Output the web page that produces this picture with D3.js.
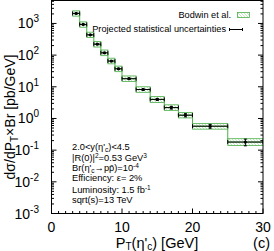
<!DOCTYPE html>
<html>
<head>
<meta charset="utf-8">
<script src="https://cdn.jsdelivr.net/npm/d3@7"></script>
<style>
  body { margin: 0; background: #fff; }
  svg { display: block; font-family: "Liberation Sans", Arial, sans-serif; }
</style>
</head>
<body>
<div></div>
<script>
const width = 274;
const height = 251;

// pT bins [GeV]
const binEdges = [3, 4, 5, 6, 7, 8, 9, 10, 12, 14, 16, 18, 20, 25, 30];
// projected cross section [pb/GeV]
const xsec = [2070, 930, 437, 222, 118, 65, 37, 18, 8.2, 4.0, 2.2, 1.27, 0.57, 0.18];
// projected statistical uncertainties
const statErr = [40, 20, 10, 6, 4, 2.5, 1.6, 0.9, 0.5, 0.3, 0.22, 0.15, 0.08, 0.043];
// Bodwin et al. band
const thHi = [2500, 1120, 530, 270, 145, 80, 45, 22, 10, 4.9, 2.7, 1.55, 0.70, 0.23];
const thLo = [1700, 760, 360, 180, 96, 53, 30, 14.6, 6.7, 3.2, 1.8, 1.04, 0.46, 0.14];

const xTicks = [0, 10, 20, 30];
const yTicks = [-3, -2, -1, 0, 1, 2, 3];

const mLeft = 51.5, mRight = 263, mTop = 0.5, mBottom = 213.5;
const green = "#4daf4a";

const svg = d3
  .select("div")
  .append("svg")
  .attr("width", width)
  .attr("height", height);

const x = d3.scaleLinear().domain([0, 30]).range([mLeft, mRight]);
const y = d3.scaleLog().domain([1e-3, 5300]).range([mBottom, mTop]);

const bins = xsec.map((v, i) => ({
  lo: binEdges[i],
  hi: binEdges[i + 1],
  v: v,
  err: statErr[i],
  thHi: thHi[i],
  thLo: thLo[i],
}));

const defs = svg.append("defs");
const pat = defs
  .append("pattern")
  .attr("id", "hatch")
  .attr("patternUnits", "userSpaceOnUse")
  .attr("width", 3)
  .attr("height", 3);
pat
  .append("path")
  .attr("d", "M-1,2 l2,2 M0,0 l3,3 M2,-1 l2,2")
  .attr("stroke", "#9ad498")
  .attr("stroke-width", 0.6);

defs
  .append("clipPath")
  .attr("id", "clip")
  .append("rect")
  .attr("x", mLeft)
  .attr("y", mTop)
  .attr("width", mRight - mLeft)
  .attr("height", mBottom - mTop);

const plot = svg.append("g").attr("clip-path", "url(#clip)");

// theory band boxes
plot
  .selectAll("rect.band")
  .data(bins)
  .enter()
  .append("rect")
  .attr("class", "band")
  .attr("x", (d) => x(d.lo))
  .attr("y", (d) => y(d.thHi))
  .attr("width", (d) => x(d.hi) - x(d.lo))
  .attr("height", (d) => y(d.thLo) - y(d.thHi))
  .attr("fill", "url(#hatch)")
  .attr("stroke", green)
  .attr("stroke-width", 0.8);

// green step line through central values
const stepPts = [];
bins.forEach((d) => {
  stepPts.push([x(d.lo), y(d.v)]);
  stepPts.push([x(d.hi), y(d.v)]);
});
plot
  .append("path")
  .attr("d", d3.line()(stepPts))
  .attr("fill", "none")
  .attr("stroke", green)
  .attr("stroke-width", 1);

// black points with errors
const pts = plot.selectAll("g.pt").data(bins).enter().append("g");
pts
  .append("line")
  .attr("x1", (d) => x(d.lo))
  .attr("x2", (d) => x(d.hi))
  .attr("y1", (d) => y(d.v))
  .attr("y2", (d) => y(d.v))
  .attr("stroke", "#000")
  .attr("stroke-width", 1);
pts
  .append("path")
  .attr("d", (d) => {
    const yy = y(d.v);
    return (
      "M" + x(d.lo) + "," + (yy - 2) + "V" + (yy + 2) +
      "M" + x(d.hi) + "," + (yy - 2) + "V" + (yy + 2)
    );
  })
  .attr("stroke", "#000")
  .attr("stroke-width", 1);
pts
  .append("path")
  .attr("d", (d) => {
    const cx = x((d.lo + d.hi) / 2);
    const y1 = y(d.v + d.err), y2 = y(d.v - d.err);
    return (
      "M" + cx + "," + y1 + "V" + y2 +
      "M" + (cx - 1.5) + "," + y1 + "H" + (cx + 1.5) +
      "M" + (cx - 1.5) + "," + y2 + "H" + (cx + 1.5)
    );
  })
  .attr("stroke", "#000")
  .attr("stroke-width", 1);
pts
  .append("circle")
  .attr("cx", (d) => x((d.lo + d.hi) / 2))
  .attr("cy", (d) => y(d.v))
  .attr("r", 1.6)
  .attr("fill", "#000");

// frame
svg
  .append("rect")
  .attr("x", mLeft)
  .attr("y", mTop)
  .attr("width", mRight - mLeft)
  .attr("height", mBottom - mTop)
  .attr("fill", "none")
  .attr("stroke", "#000")
  .attr("stroke-width", 1);

// ticks
const tickG = svg.append("g").attr("stroke", "#000").attr("stroke-width", 1);
d3.range(0, 31, 1).forEach((t) => {
  const len = t % 10 === 0 ? 5 : 2.5;
  tickG
    .append("line")
    .attr("x1", x(t))
    .attr("x2", x(t))
    .attr("y1", mBottom)
    .attr("y2", mBottom - len);
});
yTicks.forEach((e) => {
  for (let k = 1; k <= 9; k++) {
    const v = k * Math.pow(10, e);
    if (v > y.domain()[1]) break;
    const len = k === 1 ? 5 : 2.5;
    tickG
      .append("line")
      .attr("x1", mLeft)
      .attr("x2", mLeft + len)
      .attr("y1", y(v))
      .attr("y2", y(v));
    tickG
      .append("line")
      .attr("x1", mRight)
      .attr("x2", mRight - len)
      .attr("y1", y(v))
      .attr("y2", y(v));
  }
});

// tick labels
svg
  .selectAll("text.xt")
  .data(xTicks)
  .enter()
  .append("text")
  .attr("class", "xt")
  .attr("x", (d) => x(d))
  .attr("y", 232)
  .attr("text-anchor", "middle")
  .attr("font-size", 14)
  .text((d) => d);

const yl = svg
  .selectAll("text.yt")
  .data(yTicks)
  .enter()
  .append("text")
  .attr("class", "yt")
  .attr("x", 39)
  .attr("y", (d) => y(Math.pow(10, d)) + 5)
  .attr("text-anchor", "end")
  .attr("font-size", 14);
yl.append("tspan").text("10");
yl.append("tspan")
  .attr("dy", -6)
  .attr("font-size", 10)
  .text((d) => d);

// axis titles
const xt = svg
  .append("text")
  .attr("x", 157)
  .attr("y", 247.5)
  .attr("text-anchor", "middle")
  .attr("font-size", 14.5);
xt.append("tspan").text("P");
xt.append("tspan").attr("dy", 2.5).attr("font-size", 10).text("T");
xt.append("tspan").attr("dy", -2.5).text("(η'");
xt.append("tspan").attr("dy", 2.5).attr("font-size", 10).text("c");
xt.append("tspan").attr("dy", -2.5).text(") [GeV]");

svg
  .append("text")
  .attr("x", 270)
  .attr("y", 247.5)
  .attr("text-anchor", "end")
  .attr("font-size", 14.5)
  .text("(c)");

const yt = svg
  .append("text")
  .attr("transform", "translate(15,117) rotate(-90)")
  .attr("text-anchor", "middle")
  .attr("font-size", 14);
yt.append("tspan").text("dσ/dP");
yt.append("tspan").attr("dy", 3).attr("font-size", 10).text("T");
yt.append("tspan").attr("dy", -3).text("×Br [pb/GeV]");

// legend
const legFont = 9.2;
svg
  .append("text")
  .attr("x", 231)
  .attr("y", 18)
  .attr("text-anchor", "end")
  .attr("font-size", legFont)
  .text("Bodwin et al.");
svg
  .append("rect")
  .attr("x", 237.5)
  .attr("y", 12.5)
  .attr("width", 12)
  .attr("height", 5)
  .attr("fill", "url(#hatch)")
  .attr("stroke", green)
  .attr("stroke-width", 0.8);
svg
  .append("text")
  .attr("x", 226)
  .attr("y", 32)
  .attr("text-anchor", "end")
  .attr("font-size", legFont)
  .text("Projected statistical uncertainties");
svg
  .append("path")
  .attr("d", "M229.5,28V31M229.5,29.5H242.5M242.5,28V31")
  .attr("stroke", "#000")
  .attr("stroke-width", 1);

// annotation
const notes = svg.append("g").attr("font-size", 9.3);
function noteLine(yy, parts) {
  const t = notes.append("text").attr("x", 72).attr("y", yy);
  parts.forEach((p) => {
    const s = t.append("tspan").text(p[0]);
    if (p[1] === "sub") s.attr("dy", 2).attr("font-size", 6.5);
    if (p[1] === "sup") s.attr("dy", -3.5).attr("font-size", 6.5);
    if (p[1] === "subEnd") s.attr("dy", -2);
    if (p[1] === "supEnd") s.attr("dy", 3.5);
  });
}
noteLine(150, [["2.0<y(η'"], ["c", "sub"], [")<4.5", "subEnd"]]);
noteLine(161, [["|R(0)|"], ["2", "sup"], ["=0.53 GeV", "supEnd"], ["3", "sup"]]);
noteLine(171, [["Br(η'"], ["c", "sub"], ["→pp\u0304)=10", "subEnd"], ["-4", "sup"]]);
noteLine(181, [["Efficiency: ε= 2%"]]);
noteLine(193, [["Luminosity: 1.5 fb"], ["-1", "sup"]]);
noteLine(203, [["sqrt(s)=13 TeV"]]);
</script>
</body>
</html>
